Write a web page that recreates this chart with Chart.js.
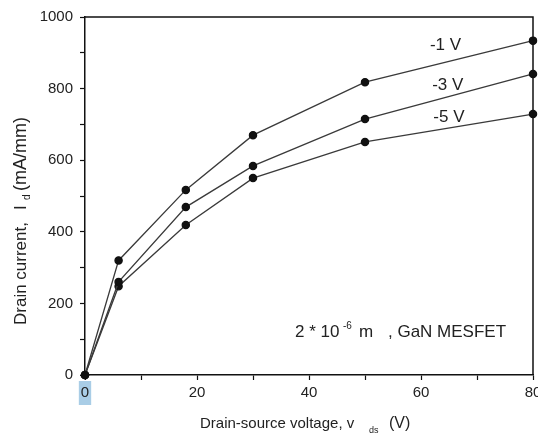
<!DOCTYPE html>
<html>
<head>
<meta charset="utf-8">
<script src="https://cdn.jsdelivr.net/npm/chart.js@4/dist/chart.umd.min.js"></script>
<style>
  html, body { margin: 0; padding: 0; background: #fff; }
  #wrap { width: 538px; height: 437px; }
</style>
</head>
<body>
<div id="wrap"><canvas id="ivChart" width="538" height="437"></canvas></div>
<script>
// data
var vds = [0, 6, 18, 30, 50, 80];
var id1V = [0, 320, 517, 670, 818, 934];
var id3V = [0, 260, 469, 584, 715, 841];
var id5V = [0, 248, 419, 550, 651, 729];
var gateLabels = ['-1 V', '-3 V', '-5 V'];
var xTicks = [0, 20, 40, 60, 80];
var yTicks = [0, 200, 400, 600, 800, 1000];

var txt = '#222';
var fontName = '"Liberation Sans", Arial, sans-serif';

function pts(ys) {
    var out = [];
    for (var i = 0; i < vds.length; i++) {
        out.push({ x: vds[i], y: ys[i] });
    }
    return out;
}

function mkSet(label, ys) {
    return {
        label: label,
        data: pts(ys),
        borderColor: '#3a3a3a',
        borderWidth: 1.3,
        pointBackgroundColor: '#111',
        pointBorderColor: '#111',
        pointRadius: 3.6,
        pointHoverRadius: 3.6,
        tension: 0,
        clip: false
    };
}

// pieces of text at given offsets (for sub/superscripts)
function drawParts(ctx, parts, x, y) {
    parts.forEach(function (p) {
        ctx.font = p.size + 'px ' + fontName;
        ctx.fillText(p.t, x + p.at, y + (p.dy || 0));
    });
}

var extras = {
    id: 'extras',
    afterDraw: function (chart) {
        var ctx = chart.ctx;
        var a = chart.chartArea;
        var xs = chart.scales.x, ys = chart.scales.y;
        ctx.save();
        // frame on top and right
        ctx.strokeStyle = '#111';
        ctx.lineWidth = 1.5;
        ctx.beginPath();
        ctx.moveTo(a.left, a.top);
        ctx.lineTo(a.right, a.top);
        ctx.lineTo(a.right, a.bottom);
        ctx.stroke();

        ctx.fillStyle = txt;
        ctx.textBaseline = 'alphabetic';
        ctx.textAlign = 'left';

        // x title
        drawParts(ctx, [
            { t: 'Drain-source voltage, v', size: 15, at: 0 },
            { t: 'ds', size: 9, at: 169, dy: 5 },
            { t: '(V)', size: 16, at: 189 }
        ], 200, 428);

        // y title
        ctx.save();
        ctx.translate(26, 325);
        ctx.rotate(-Math.PI / 2);
        drawParts(ctx, [
            { t: 'Drain current,', size: 17, at: 0 },
            { t: 'I', size: 17, at: 115 },
            { t: 'd', size: 10, at: 125, dy: 4 },
            { t: '(mA/mm)', size: 18, at: 134 }
        ], 0, 0);
        ctx.restore();

        // gate voltage labels
        var lx = [61.6, 62, 62.2];
        var ly = [908, 796, 707];
        ctx.font = '17px ' + fontName;
        for (var i = 0; i < gateLabels.length; i++) {
            ctx.fillText(gateLabels[i], xs.getPixelForValue(lx[i]), ys.getPixelForValue(ly[i]));
        }

        // device note
        drawParts(ctx, [
            { t: '2 * 10', size: 17, at: 0 },
            { t: '-6', size: 10, at: 48, dy: -8 },
            { t: 'm', size: 17, at: 64 },
            { t: ', GaN MESFET', size: 17, at: 93 }
        ], xs.getPixelForValue(37.5), ys.getPixelForValue(107));
        ctx.restore();
    }
};

var ctx = document.getElementById('ivChart').getContext('2d');
var ivChart = new Chart(ctx, {
    type: 'line',
    data: {
        datasets: [mkSet(gateLabels[0], id1V), mkSet(gateLabels[1], id3V), mkSet(gateLabels[2], id5V)]
    },
    options: {
        responsive: false,
        animation: false,
        devicePixelRatio: 1,
        layout: { padding: { top: 17, right: 5, left: 0, bottom: 0 } },
        plugins: {
            legend: { display: false },
            tooltip: { enabled: false }
        },
        scales: {
            x: {
                type: 'linear',
                min: 0,
                max: 80,
                afterFit: function (s) {
                    s.height = 62;
                    s.paddingLeft = 0;
                    s.paddingRight = 0;
                },
                border: { color: '#111', width: 1.5 },
                grid: { drawOnChartArea: false, tickLength: 5, tickColor: '#111', tickWidth: 1.2 },
                ticks: {
                    stepSize: 10,
                    padding: 4,
                    color: txt,
                    font: { family: fontName, size: 15 },
                    maxRotation: 0,
                    callback: function (v) { return xTicks.indexOf(v) >= 0 ? String(v) : ''; },
                    showLabelBackdrop: true,
                    backdropPadding: { top: 3, bottom: 3, left: 2, right: 2 },
                    backdropColor: function (c) { return c.index === 0 ? '#a9cde6' : 'rgba(0,0,0,0)'; }
                }
            },
            y: {
                type: 'linear',
                min: 0,
                max: 1000,
                afterFit: function (s) {
                    s.width = 85;
                    s.paddingTop = 0;
                    s.paddingBottom = 0;
                },
                border: { color: '#111', width: 1.5 },
                grid: { drawOnChartArea: false, tickLength: 5, tickColor: '#111', tickWidth: 1.2 },
                ticks: {
                    stepSize: 100,
                    padding: 7,
                    color: txt,
                    font: { family: fontName, size: 15 },
                    callback: function (v) { return yTicks.indexOf(v) >= 0 ? String(v) : ''; }
                }
            }
        }
    },
    plugins: [extras]
});
</script>
</body>
</html>
